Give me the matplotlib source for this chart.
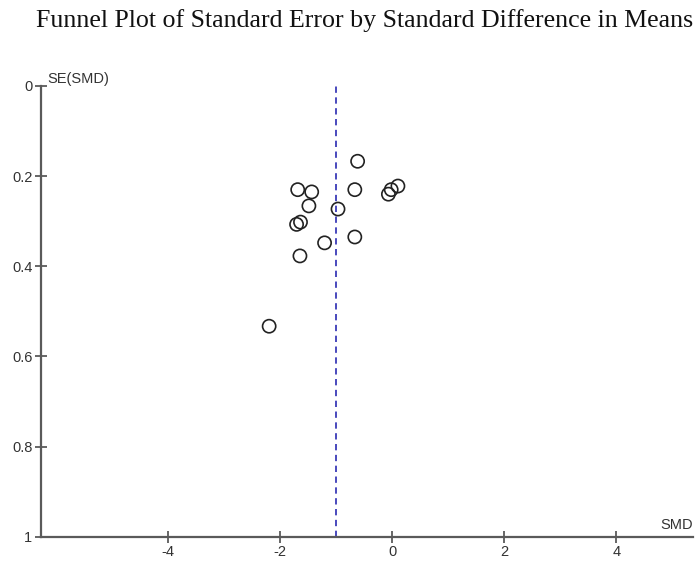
import numpy as np
import matplotlib
matplotlib.use("Agg")
import matplotlib.pyplot as plt

plt.rc('font', family='Liberation Sans')

# study estimates
smd = [-0.62, -1.69, -1.44, -0.67, 0.10, -0.02, -0.07, -1.49, -0.97,
       -1.71, -1.64, -1.21, -0.67, -1.65, -2.20]
se = [0.167, 0.230, 0.235, 0.230, 0.222, 0.230, 0.240, 0.266, 0.273,
      0.307, 0.302, 0.348, 0.335, 0.377, 0.533]
pooled = -1.0

xticks = [-4, -2, 0, 2, 4]
yticks = [0, 0.2, 0.4, 0.6, 0.8, 1]
ylabels = ['0', '0.2', '0.4', '0.6', '0.8', '1']

W, H = 695, 563
fig = plt.figure(figsize=(W / 100, H / 100), dpi=100)
ax = fig.add_axes([40.7 / W, 1 - 536.7 / H, (693 - 40.7) / W, (536.7 - 86) / H])

axc = '#5a5a5a'
ax.scatter(smd, se, s=90, facecolors='none', edgecolors='#222222', linewidths=1.2, zorder=3)
ax.axvline(pooled, color='#3a3ab8', lw=1.3, ls=(0, (3.5, 2.5)), zorder=2)

ax.set_xlim(-6.28, 5.37)
ax.set_ylim(1, 0)
ax.set_xticks(xticks)
ax.set_xticklabels([str(t) for t in xticks])
ax.set_yticks(yticks)
ax.set_yticklabels(ylabels)

for s in ['top', 'right']:
    ax.spines[s].set_visible(False)
for s in ['left', 'bottom']:
    ax.spines[s].set_color(axc)
    ax.spines[s].set_linewidth(1.6)
ax.tick_params(direction='inout', length=8, width=1.3, color=axc,
               labelsize=10.5, labelcolor='#333333', pad=2)

ax.text(0.01, 1.0, 'SE(SMD)', transform=ax.transAxes, fontsize=10.5,
        color='#333333', ha='left', va='bottom')
ax.text(1.0, 0.01, 'SMD', transform=ax.transAxes, fontsize=10.5,
        color='#333333', ha='right', va='bottom')

fig.text(365 / W, 1 - 27 / H, 'Funnel Plot of Standard Error by Standard Difference in Means',
         family='Liberation Serif', fontsize=18.6, ha='center', va='baseline', color='#111111')

fig.savefig('out.png', dpi=100)
